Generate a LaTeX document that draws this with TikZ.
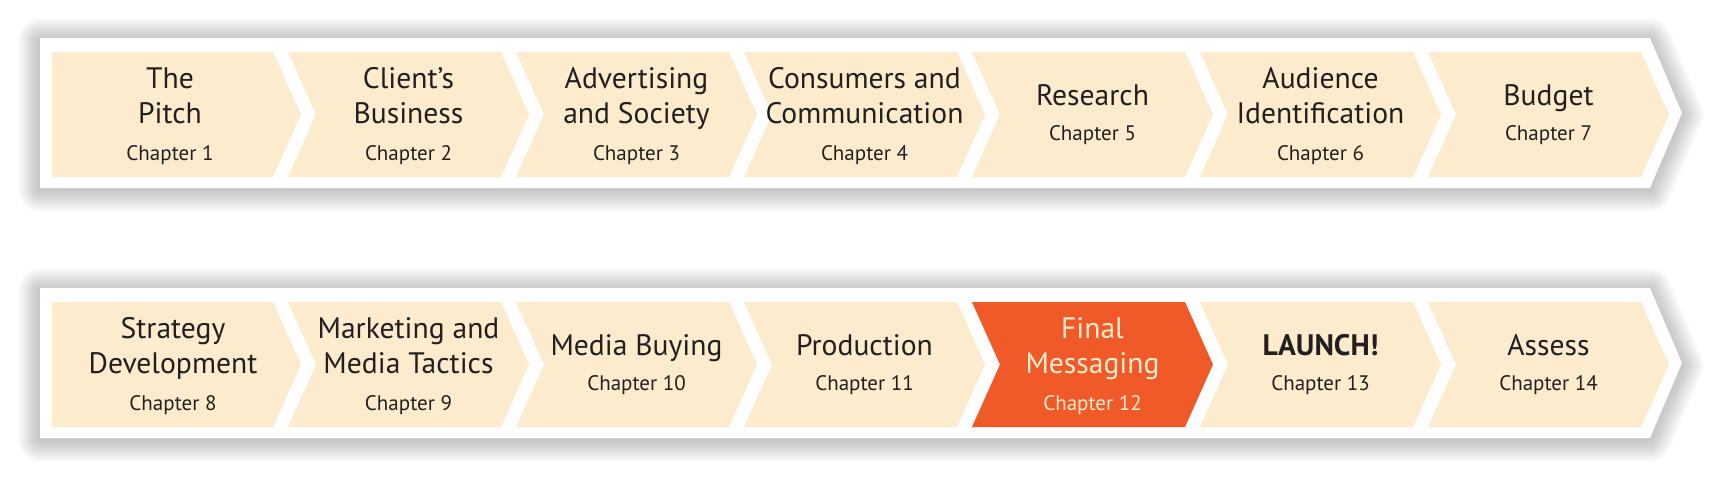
\documentclass[tikz,border=0pt]{standalone}
\usepackage{fontspec}
\setmainfont{PT Sans}
\definecolor{chevtan}{RGB}{252,235,204}
\definecolor{chevorange}{RGB}{240,90,40}
\definecolor{chevtext}{RGB}{35,31,32}
\newcommand{\chapfont}{\fontsize{10.5}{17}\selectfont}

\begin{document}
\begin{tikzpicture}[x=0.5pt,y=-0.5pt]
        \useasboundingbox (0,0) rectangle (1721,478);

        % white bands with a soft shadow
        \foreach \top in {38,288} {
          \foreach \i in {1,...,20}
            \draw[black, opacity=0.013, line join=round, line width={\i*1.1pt}]
              (40,\top+2) -- (1650,\top+2) -- (1682,\top+77) -- (1650,\top+152) -- (40,\top+152) -- cycle;
          \fill[white] (40,\top) -- (1650,\top) -- (1682,\top+75) -- (1650,\top+150) -- (40,\top+150) -- cycle;
        }

        % chevrons
        \foreach \top in {52,302} {
          \foreach \k in {0,...,6} {
            \pgfmathsetmacro\chevL{ifthenelse(\k==0,52,60+228*\k)}
            \pgfmathsetmacro\chevR{273+228*\k}
            \pgfmathsetmacro\notch{ifthenelse(\k==0,0,28)}
            \fill[chevtan] (\chevL,\top) -- (\chevR,\top) -- (\chevR+28,\top+62.5)
              -- (\chevR,\top+125) -- (\chevL,\top+125) -- (\chevL+\notch,\top+62.5) -- cycle;
          }
        }
        \fill[chevorange] (972,302) -- (1185,302) -- (1213,364.5) -- (1185,427)
          -- (972,427) -- (1000,364.5) -- cycle;

        \begin{scope}[every node/.style={align=center, text=chevtext,
            font=\fontsize{14.8}{17.5}\selectfont}]
          \node (pitch)     at (170,116)    {The\\Pitch\\[1pt]{\chapfont Chapter 1}};
          \node (client)    at (408.5,116)  {Client’s\\Business\\[1pt]{\chapfont Chapter 2}};
          \node (society)   at (636.5,116)  {Advertising\\and Society\\[1pt]{\chapfont Chapter 3}};
          \node (consumers) at (864.5,116)  {Consumers and\\Communication\\[1pt]{\chapfont Chapter 4}};
          \node (research)  at (1092.5,114.5) {Research\\{\chapfont Chapter 5}};
          \node (audience)  at (1320.5,116)  {Audience\\Identification\\[1pt]{\chapfont Chapter 6}};
          \node (budget)    at (1548.5,114.5) {Budget\\{\chapfont Chapter 7}};

          \node (strategy)   at (173,366)    {Strategy\\Development\\[1pt]{\chapfont Chapter 8}};
          \node (tactics)    at (408.5,366)  {Marketing and\\Media Tactics\\[1pt]{\chapfont Chapter 9}};
          \node (buying)     at (636.5,364.5)  {Media Buying\\{\chapfont Chapter 10}};
          \node (production) at (864.5,364.5)  {Production\\{\chapfont Chapter 11}};
          \node[text=chevtan] (messaging) at (1092.5,366) {Final\\Messaging\\[1pt]{\chapfont Chapter 12}};
          \node (launch)     at (1320.5,364.5) {\textbf{LAUNCH!}\\{\chapfont Chapter 13}};
          \node (assess)     at (1548.5,364.5) {Assess\\{\chapfont Chapter 14}};
        \end{scope}

      \end{tikzpicture}
\end{document}
